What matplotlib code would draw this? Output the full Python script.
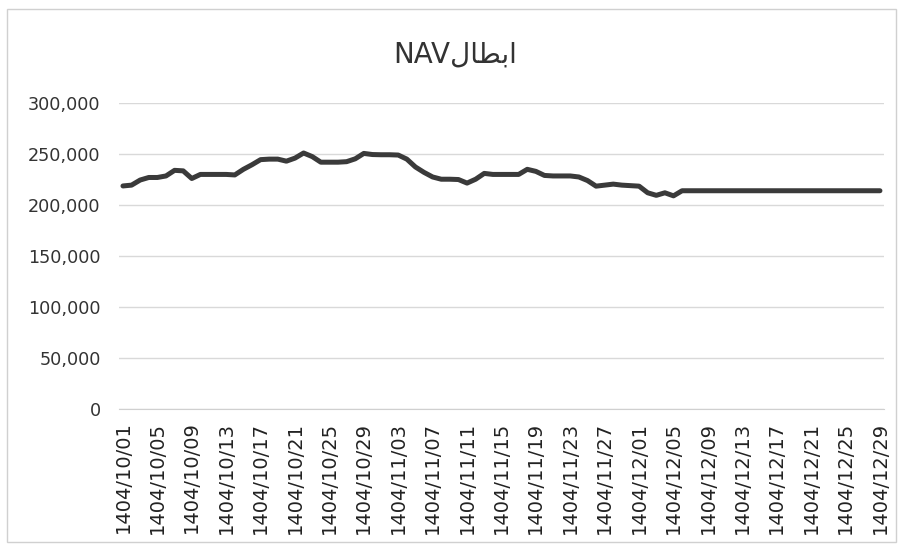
import matplotlib
matplotlib.use("Agg")
import matplotlib.pyplot as plt
from matplotlib.patches import Rectangle
from matplotlib.ticker import FuncFormatter

# Persian calendar days 1404/10/01 .. 1404/12/29 (30 + 30 + 29 days)
months = [10, 11, 12]
month_days = [30, 30, 29]
dates = ["1404/%02d/%02d" % (m, d) for m, n in zip(months, month_days) for d in range(1, n + 1)]

# NAV values
nav = [218700, 219500, 224500, 227000, 227000, 228500, 234000, 233500, 226000, 230000,
       230000, 230000, 230000, 229500, 235000, 239500, 244500, 245000, 245000, 243000,
       246000, 251000, 247500, 242000, 242000, 242000, 242500, 245300, 250600, 249500,
       249300, 249300, 249000, 245000, 237300, 232000, 227500, 225300, 225300, 225000,
       221500, 225300, 231000, 230000, 230000, 230000, 230000, 235000, 233000, 229000,
       228500, 228500, 228500, 227500, 224000, 218500, 219500, 220500, 219500, 219000,
       218500, 212000, 209500, 212000, 209000, 214000, 214000, 214000, 214000, 214000,
       214000, 214000, 214000, 214000, 214000, 214000, 214000, 214000, 214000, 214000,
       214000, 214000, 214000, 214000, 214000, 214000, 214000, 214000, 214000]

yticks = [0, 50000, 100000, 150000, 200000, 250000, 300000]

# title "ابطال" + NAV; the Arabic word is given in visual order with
# presentation forms because matplotlib does no Arabic shaping
title = "NAV" + "\ufedd\ufe8e\ufec4\ufe91\ufe8d"

fig = plt.figure(figsize=(9.01, 5.46), dpi=100)
ax = fig.add_axes([0.1317, 0.2509, 0.8497, 0.5604])

x = list(range(len(nav)))
ax.plot(x, nav, color="#3a3a3a", lw=3.6, solid_joinstyle="round", solid_capstyle="round", zorder=3)

ax.set_xlim(-0.5, len(nav) - 0.5)
ax.set_ylim(0, 300000)
ax.set_yticks(yticks)
ax.yaxis.set_major_formatter(FuncFormatter(lambda v, p: "{:,.0f}".format(v)))
ax.set_xticks(x[::4])
ax.set_xticklabels(dates[::4], rotation=90)

ax.grid(axis="y", color="#d9d9d9", lw=1)
ax.set_axisbelow(True)
for s in ["top", "right", "left"]:
    ax.spines[s].set_visible(False)
ax.spines["bottom"].set_color("#d0d0d0")
ax.tick_params(axis="y", length=0, pad=13, labelsize=12.7, labelcolor="#333333")
ax.tick_params(axis="x", length=0, pad=9, labelsize=14, labelcolor="#222222")

fig.text(0.505, 0.90, title, ha="center", va="center", fontsize=20, color="#333333")

fig.patches.append(Rectangle((0.008, 0.008), 0.987, 0.976, transform=fig.transFigure,
                             fill=False, edgecolor="#d0d0d0", lw=1))

fig.savefig("out.png", dpi=100)
